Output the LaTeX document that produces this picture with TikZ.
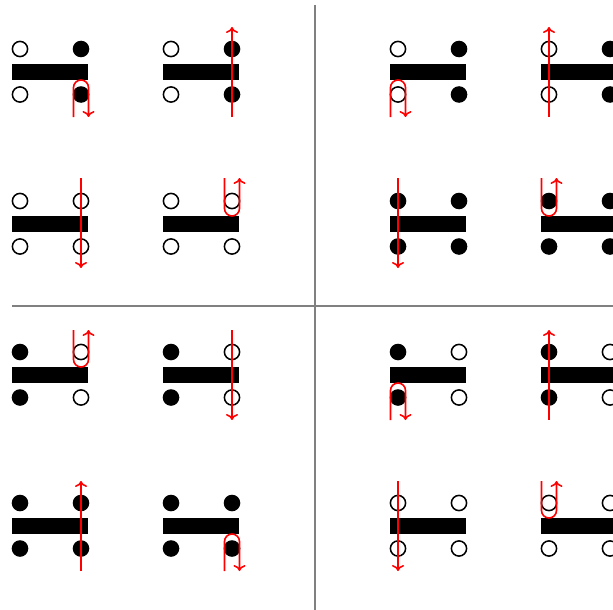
\documentclass[tikz,border=0pt]{standalone}
\usetikzlibrary{arrows.meta}
\tikzset{
  oc/.style={circle,draw=black,fill=white,line width=1.5pt,minimum size=15.2pt,inner sep=0pt},
  fc/.style={circle,fill=black,minimum size=16.6pt,inner sep=0pt},
  redarrow/.style={draw=red,line width=1.6pt,-{To[length=6pt,width=12pt]}},
  divider/.style={draw=gray,line width=2pt}
}
\newcommand\mycell[4]{%
  \node[#3] at (#1,#2) {};
  \node[#3] at (#1,#2+45.5) {};
  \node[#4] at (#1+61,#2) {};
  \node[#4] at (#1+61,#2+45.5) {};
  \fill[black] (#1-8,#2+15) rectangle (#1+68,#2+31);
}
\newcommand\myuturn[3]{%
  \draw[redarrow,rounded corners=7.5pt] (#1-7.5,#3) -- (#1-7.5,#2) -- (#1+7.5,#2) -- (#1+7.5,#3);
}
\newcommand\mystraight[3]{%
  \draw[redarrow] (#1,#2) -- (#1,#3);
}
\begin{document}
\begin{tikzpicture}[x=1pt,y=-1pt]
\useasboundingbox (0,0) rectangle (613,610);
\clip (0,0) rectangle (613,610);
\fill[white] (0,0) rectangle (613,610);
\coordinate (vt) at (315,5);
\coordinate (vb) at (315,610);
\coordinate (hl) at (12,306);
\coordinate (hr) at (613,306);
\draw[divider] (vt) -- (vb);
\draw[divider] (hl) -- (hr);
% top-left quadrant
\mycell{20}{49}{oc}{fc}
\mycell{171}{49}{oc}{fc}
\mycell{20}{201}{oc}{oc}
\mycell{171}{201}{oc}{oc}
% top-right quadrant
\mycell{398}{49}{oc}{fc}
\mycell{549}{49}{oc}{fc}
\mycell{398}{201}{fc}{fc}
\mycell{549}{201}{fc}{fc}
% bottom-left quadrant
\mycell{20}{352}{fc}{oc}
\mycell{171}{352}{fc}{oc}
\mycell{20}{503}{fc}{fc}
\mycell{171}{503}{fc}{fc}
% bottom-right quadrant
\mycell{398}{352}{fc}{oc}
\mycell{549}{352}{fc}{oc}
\mycell{398}{503}{oc}{oc}
\mycell{549}{503}{oc}{oc}
% red arrows
\myuturn{81}{80}{117}
\mystraight{232}{117}{27}
\mystraight{81}{178}{268}
\myuturn{232}{216}{178}
\myuturn{398}{80}{117}
\mystraight{549}{117}{27}
\mystraight{398}{178}{268}
\myuturn{549}{216}{178}
\myuturn{81}{367}{330}
\mystraight{232}{330}{420}
\mystraight{81}{571}{481}
\myuturn{232}{534}{571}
\myuturn{398}{383}{420}
\mystraight{549}{420}{330}
\mystraight{398}{481}{571}
\myuturn{549}{518}{481}
\end{tikzpicture}
\end{document}
